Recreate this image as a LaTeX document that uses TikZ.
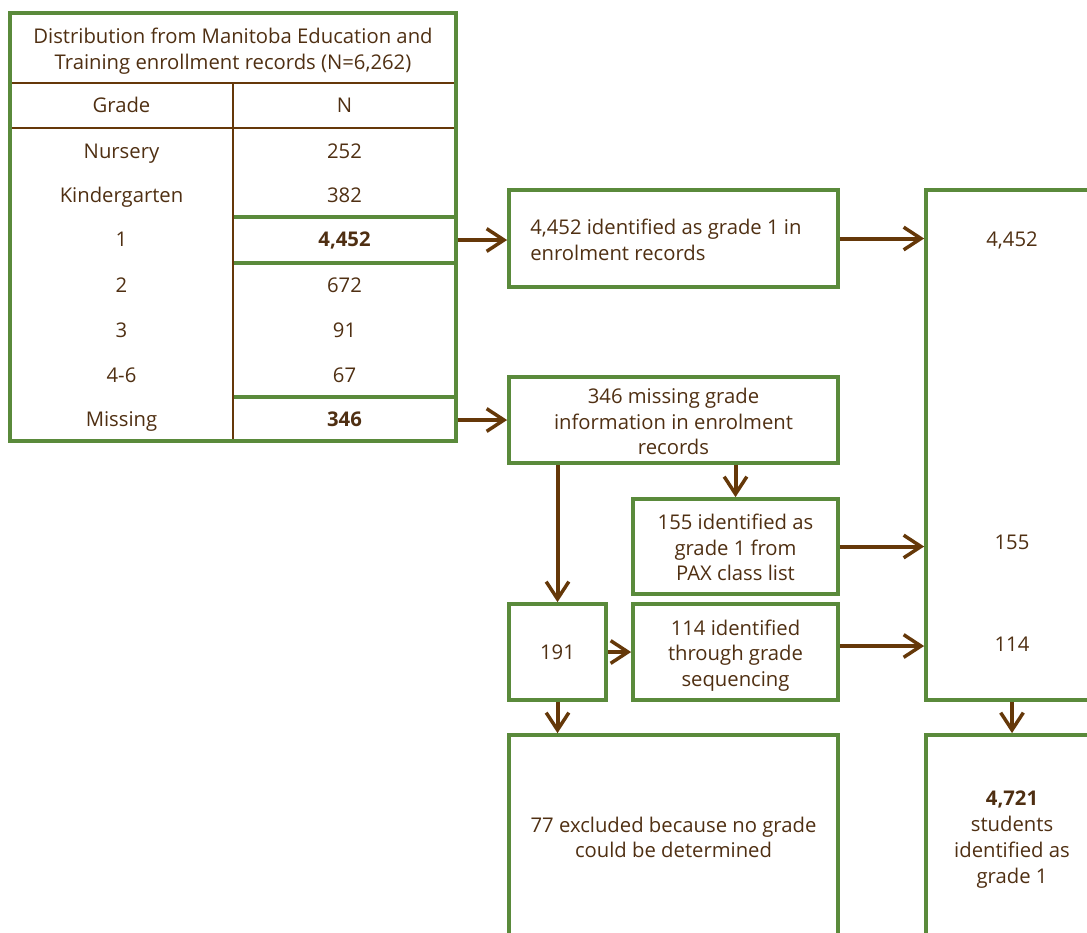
\documentclass[tikz,border=0pt]{standalone}
\usepackage{fontspec}
\setmainfont{Open Sans}
\usetikzlibrary{arrows.meta,fit,calc}
\definecolor{grn}{HTML}{5A8A3B}
\definecolor{brn}{HTML}{653809}
\definecolor{txt}{HTML}{4F2F12}
\newcommand\fs{\fontsize{15.2}{19.3}\selectfont}
\begin{document}
\begin{tikzpicture}[x=0.75pt,y=-0.75pt,
  box/.style={draw=grn, line width=2.8pt, inner sep=0pt},
  lbl/.style={text=txt, font=\fs, inner sep=0pt, align=center},
  cell/.style={text=txt, font=\fs, inner sep=0pt, text height=0.97em, text depth=0pt},
  arr/.style={draw=brn, line width=3pt, -{Straight Barb[length=13pt,width=17pt,line width=2.6pt]}},
  tline/.style={draw=brn, line width=2.2pt},
  gline/.style={draw=grn, line width=2.8pt},
]
\path[use as bounding box] (0,0) rectangle (1087,932);
\clip (0,0) rectangle (1087,932);
% table
\draw[tline] (10,83) -- (456,83);
\draw[tline] (10,128) -- (456,128);
\draw[gline] (233,217) -- (456,217);
\draw[gline] (233,263) -- (456,263);
\draw[gline] (233,397) -- (456,397);
\draw[tline] (233,83) -- (233,441);
\node[box, fit={(10,13)(456,441)}] (T) {};
\node[lbl] (title) at (233,51.5) {Distribution from Manitoba Education and\\Training enrollment records (N=6,262)};
\node[cell] (gH) at (121.5,106) {Grade};
\node[cell] (nH) at (344.5,106) {N};
\node[cell] (g0) at (121.5,152) {Nursery};
\node[cell] (n0) at (344.5,152) {252};
\node[cell] (g1) at (121.5,196) {Kindergarten};
\node[cell] (n1) at (344.5,196) {382};
\node[cell] (g2) at (121.5,240) {1};
\node[cell, font=\fs\bfseries] (n2) at (344.5,240) {4,452};
\node[cell] (g3) at (121.5,286) {2};
\node[cell] (n3) at (344.5,286) {672};
\node[cell] (g4) at (121.5,331) {3};
\node[cell] (n4) at (344.5,331) {91};
\node[cell] (g5) at (121.5,376) {4-6};
\node[cell] (n5) at (344.5,376) {67};
\node[cell] (g6) at (121.5,420) {Missing};
\node[cell, font=\fs\bfseries] (n6) at (344.5,420) {346};
% flow boxes
\node[box, fit={(509,190)(838,287)}] (A) {};
\node[lbl, anchor=west, align=left] (At) at (530,240) {4,452 identified as grade 1 in\\enrolment records};
\node[box, fit={(509,377)(838,463)}] (B) {};
\node[lbl] (Bt) at (673.5,421.5) {346 missing grade\\information in enrolment\\records};
\node[box, fit={(633,499)(838,594)}] (C) {};
\node[lbl] (Ct) at (735.5,547.5) {155 identified as\\grade 1 from\\PAX class list};
\node[box, fit={(509,604)(606,700)}] (D) {};
\node[cell] (Dt) at (557.5,653) {191};
\node[box, fit={(633,604)(838,700)}] (E) {};
\node[lbl] (Et) at (735.5,655.5) {114 identified\\through grade\\sequencing};
\node[box, fit={(509,735)(838,945)}] (F) {};
\node[lbl] (Ft) at (673.5,837.5) {77 excluded because no grade\\could be determined};
\node[box, fit={(926,190)(1098,700)}] (R) {};
\node[cell] (r1) at (1012,240) {4,452};
\node[cell] (r2) at (1012,543) {155};
\node[cell] (r3) at (1012,645) {114};
\node[box, fit={(926,735)(1098,945)}] (G) {};
\node[lbl] (Gt) at (1012,839.5) {\textbf{4,721}\\students\\identified as\\grade 1};
% arrows
\draw[arr] (T.east |- n2) -- (A.west |- n2);
\draw[arr] (T.east |- n6) -- (B.west |- n6);
\draw[arr] (A.east) -- (A.east -| R.west);
\draw[arr] (B.south -| D.north) -- (D.north);
\draw[arr] (B.south -| C.north) -- (C.north);
\draw[arr] (C.east) -- (C.east -| R.west);
\draw[arr] (D.east) -- (E.west);
\coordinate (Eo) at ($(E.east)+(0,-6)$);
\draw[arr] (Eo) -- (Eo -| R.west);
\draw[arr] (D.south) -- (D.south |- F.north);
\draw[arr] (R.south) -- (G.north);
\end{tikzpicture}
\end{document}
